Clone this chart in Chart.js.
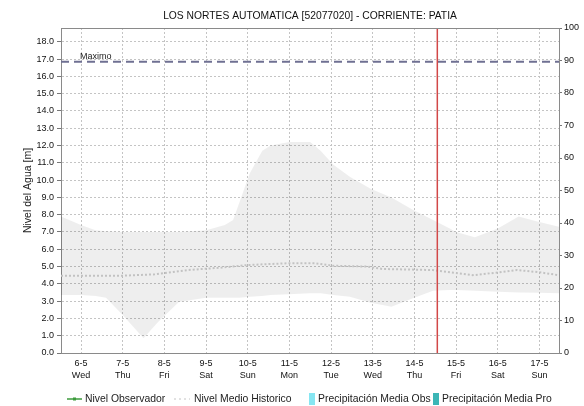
<!DOCTYPE html>
<html>
<head>
<meta charset="utf-8">
<title>LOS NORTES AUTOMATICA [52077020] - CORRIENTE: PATIA</title>
<script src="https://cdn.jsdelivr.net/npm/chart.js@4/dist/chart.umd.min.js"></script>
<style>
  html, body { margin: 0; padding: 0; background: #ffffff; }
  canvas { display: block; }
</style>
</head>
<body>
<canvas id="chart" width="584" height="406"></canvas>
<script>
// Etiquetas del eje temporal (una por día)
const diasEtiquetas = ['6-5', '7-5', '8-5', '9-5', '10-5', '11-5', '12-5', '13-5', '14-5', '15-5', '16-5', '17-5'];
const diasSemana = ['Wed', 'Thu', 'Fri', 'Sat', 'Sun', 'Mon', 'Tue', 'Wed', 'Thu', 'Fri', 'Sat', 'Sun'];

// Banda histórica (máximo y mínimo) en días desde 6-5
const bandaDias = [-0.48, 0, 0.35, 0.6, 1.0, 1.5, 1.85, 2.35, 3.0, 3.45, 3.65, 3.8, 4.05, 4.35, 4.55, 5.0, 5.5, 5.75, 6.05, 6.45, 6.95, 7.45, 7.95, 8.45, 8.85, 9.0, 9.45, 10.0, 10.5, 10.95, 11.47];
const bandaMax = [7.9, 7.4, 7.1, 7.05, 7.0, 7.0, 7.0, 7.0, 7.1, 7.4, 7.7, 8.7, 10.4, 11.7, 12.0, 12.2, 12.2, 11.7, 10.9, 10.2, 9.5, 9.0, 8.3, 7.7, 7.2, 7.0, 6.7, 7.2, 7.9, 7.6, 7.3];
const bandaMin = [3.36, 3.35, 3.3, 3.2, 2.2, 0.85, 1.8, 2.95, 3.2, 3.2, 3.2, 3.2, 3.25, 3.3, 3.35, 3.4, 3.45, 3.45, 3.36, 3.26, 2.9, 2.68, 3.15, 3.6, 3.64, 3.64, 3.6, 3.55, 3.5, 3.48, 3.45];

// Nivel medio histórico
const medioDias = [-0.48, 0.98, 1.77, 2.57, 3.38, 4.0, 4.96, 5.61, 6.04, 6.86, 7.24, 8.44, 9.4, 10.05, 10.46, 11.0, 11.47];
const medioNivel = [4.47, 4.47, 4.55, 4.8, 4.94, 5.09, 5.19, 5.19, 5.05, 5.0, 4.86, 4.8, 4.5, 4.67, 4.8, 4.67, 4.5];

// Series sin registros en el periodo
const nivelObservado = [];
const precipObs = [];
const precipPro = [];

// Umbral máximo y hora actual (días desde 6-5)
const maximo = 16.85;
const horaActual = 8.55;

// Rango de los ejes
const xMin = -0.48, xMax = 11.47;
const nivelMax = 18.8, precipMax = 100;

const pts = (xs, ys) => xs.map((x, i) => ({ x: x, y: ys[i] }));

const FONT = '"Liberation Sans", Arial, sans-serif';

const marco = {
  id: 'marco',
  afterDraw(chart) {
    const { ctx, chartArea: a, scales } = chart;
    const ds = chart.data.datasets;
    ctx.save();
    // borde superior
    ctx.strokeStyle = '#8a8a8a';
    ctx.lineWidth = 1;
    ctx.beginPath();
    ctx.moveTo(a.left, a.top + 0.5);
    ctx.lineTo(a.right, a.top + 0.5);
    ctx.stroke();
    // etiqueta del umbral
    ctx.fillStyle = '#222';
    ctx.font = '9px ' + FONT;
    ctx.textBaseline = 'alphabetic';
    ctx.textAlign = 'left';
    ctx.fillText('Maximo', a.left + 19, scales.y.getPixelForValue(maximo) - 3);
    // título
    ctx.font = '10.3px ' + FONT;
    ctx.textAlign = 'center';
    ctx.textBaseline = 'middle';
    ctx.fillStyle = '#111';
    ctx.fillText('LOS NORTES AUTOMATICA [52077020] - CORRIENTE: PATIA', (a.left + a.right) / 2, 16);

    // leyenda
    const y = 399;
    ctx.font = '10.4px ' + FONT;
    ctx.textAlign = 'left';
    // Nivel Observador
    ctx.strokeStyle = '#3c9b3c';
    ctx.lineWidth = 1.5;
    ctx.beginPath(); ctx.moveTo(67, y); ctx.lineTo(82, y); ctx.stroke();
    ctx.fillStyle = '#3c9b3c';
    ctx.fillRect(73, y - 1.5, 3, 3);
    ctx.fillStyle = '#222';
    ctx.fillText(ds[5].label, 85, y);
    // Nivel Medio Historico
    ctx.strokeStyle = '#c4c4c4';
    ctx.lineWidth = 1;
    ctx.setLineDash([2, 3]);
    ctx.beginPath(); ctx.moveTo(174, y); ctx.lineTo(190, y); ctx.stroke();
    ctx.setLineDash([]);
    ctx.fillText(ds[2].label, 194, y);
    // Precipitación Media Obs
    ctx.fillStyle = '#86e6f2';
    ctx.fillRect(309, y - 6, 6, 12);
    ctx.fillStyle = '#222';
    ctx.fillText(ds[6].label, 318, y);
    // Precipitación Media Pro
    ctx.fillStyle = '#3cb6b6';
    ctx.fillRect(433, y - 6, 6, 12);
    ctx.fillStyle = '#222';
    ctx.fillText(ds[7].label, 442, y);
    ctx.restore();
  }
};

const BANDA = 'rgba(0,0,0,0.068)';

new Chart(document.getElementById('chart'), {
  type: 'line',
  data: {
    datasets: [
      { label: 'Maximo historico', data: pts(bandaDias, bandaMax), yAxisID: 'y',
        borderWidth: 0, borderColor: 'rgba(0,0,0,0)', backgroundColor: BANDA, fill: '+1', order: 5 },
      { label: 'Minimo historico', data: pts(bandaDias, bandaMin), yAxisID: 'y',
        borderWidth: 0, borderColor: 'rgba(0,0,0,0)', backgroundColor: BANDA, fill: false, order: 5 },
      { label: 'Nivel Medio Historico', data: pts(medioDias, medioNivel), yAxisID: 'y',
        borderColor: '#c2c2c2', borderWidth: 2, borderDash: [2, 2], fill: false, order: 3 },
      { label: 'Maximo', data: pts([xMin, xMax], [maximo, maximo]), yAxisID: 'y',
        borderColor: '#6f7092', borderWidth: 2, borderDash: [8, 5], fill: false, order: 2 },
      { label: 'Ahora', data: pts([horaActual, horaActual], [0, nivelMax]), yAxisID: 'y',
        borderColor: '#d24848', borderWidth: 1.5, fill: false, order: 1 },
      { label: 'Nivel Observador', data: nivelObservado, yAxisID: 'y',
        borderColor: '#3c9b3c', borderWidth: 1.5, fill: false },
      { label: 'Precipitación Media Obs', data: precipObs, yAxisID: 'y1',
        borderColor: '#86e6f2', backgroundColor: '#86e6f2', fill: false },
      { label: 'Precipitación Media Pro', data: precipPro, yAxisID: 'y1',
        borderColor: '#3cb6b6', backgroundColor: '#3cb6b6', fill: false }
    ]
  },
  options: {
    responsive: false,
    animation: false,
    events: [],
    layout: { padding: { top: 28, bottom: 0, left: 0, right: 0 } },
    elements: { point: { radius: 0 }, line: { tension: 0 } },
    plugins: {
      legend: { display: false },
      title: { display: false },
      tooltip: { enabled: false },
      filler: { propagate: false }
    },
    scales: {
      x: {
        type: 'linear',
        min: xMin,
        max: xMax,
        afterFit(s) { s.height = 53; },
        grid: { color: '#c4c4c4', tickLength: 0, drawTicks: false },
        border: { display: true, color: '#8a8a8a', width: 1, dash: [2, 2] },
        ticks: {
          stepSize: 1,
          includeBounds: false,
          autoSkip: false,
          maxRotation: 0,
          padding: 5,
          color: '#111',
          font: { family: FONT, size: 9, lineHeight: 1.3 },
          callback(v) {
            const i = Math.round(v);
            if (Math.abs(v - i) > 1e-6 || i < 0 || i >= diasEtiquetas.length) return '';
            return [diasEtiquetas[i], diasSemana[i]];
          }
        }
      },
      y: {
        position: 'left',
        min: 0,
        max: nivelMax,
        afterFit(s) { s.width = 61; },
        grid: { color: '#c4c4c4', tickLength: 4, tickColor: '#777', tickBorderDash: [] },
        border: { display: true, color: '#8a8a8a', width: 1, dash: [2, 2] },
        ticks: {
          stepSize: 1,
          includeBounds: false,
          padding: 3,
          color: '#111',
          font: { family: FONT, size: 9 },
          callback(v) { return v.toFixed(1); }
        },
        title: {
          display: true,
          text: 'Nivel del Agua [m]',
          color: '#222',
          font: { family: FONT, size: 10.5 },
          padding: { top: 22, bottom: 0 }
        }
      },
      y1: {
        display: true,
        position: 'right',
        min: 0,
        max: precipMax,
        afterFit(s) { s.width = 25; },
        grid: { drawOnChartArea: false, tickLength: 3, tickColor: '#777' },
        border: { display: true, color: '#8a8a8a', width: 1 },
        ticks: {
          stepSize: 10,
          padding: 2,
          color: '#111',
          font: { family: FONT, size: 9 }
        }
      }
    }
  },
  plugins: [marco]
});
</script>
</body>
</html>
